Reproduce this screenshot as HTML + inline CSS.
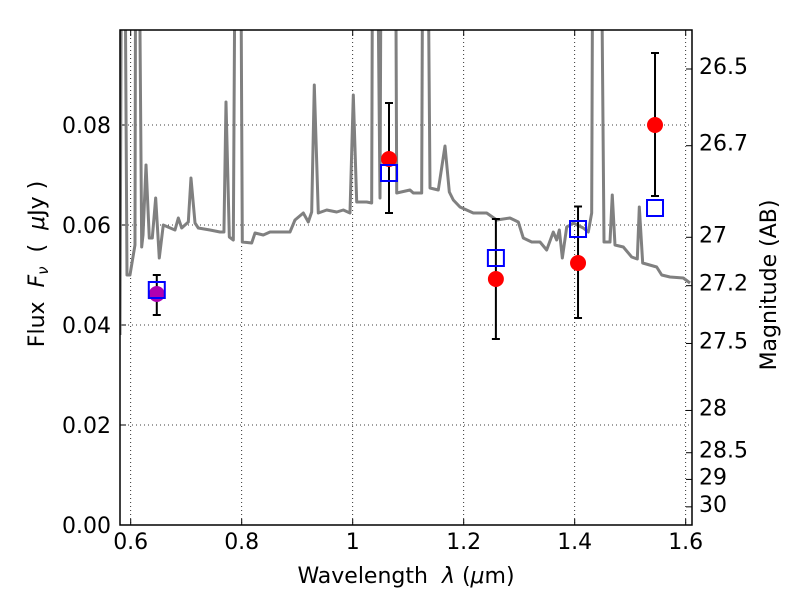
<!DOCTYPE html>
<html><head><meta charset="utf-8"><style>
body{margin:0;background:#fff}
svg text{font-family:"DejaVu Sans","Liberation Sans",sans-serif;fill:#000}
</style></head><body>
<svg id="chart" width="800" height="600" xmlns="http://www.w3.org/2000/svg"></svg>
<script>
const specLam=[0.5807,0.5843,0.588,0.5933,0.5987,0.6077,0.6095,0.6131,0.6198,0.6222,0.6276,0.6335,0.6389,0.645,0.6515,0.6587,0.6798,0.6858,0.6919,0.7038,0.7086,0.7159,0.7218,0.7429,0.7609,0.768,0.7717,0.7777,0.7849,0.7897,0.7969,0.8011,0.818,0.824,0.8389,0.851,0.887,0.896,0.911,0.92,0.9261,0.9308,0.938,0.9532,0.9712,0.9831,0.9951,1.0011,1.0072,1.0252,1.0342,1.0366,1.042,1.0492,1.0523,1.0762,1.0793,1.1032,1.1092,1.1243,1.1272,1.1333,1.1393,1.1542,1.1663,1.1741,1.1813,1.1933,1.2173,1.2414,1.2595,1.2834,1.2984,1.3074,1.3225,1.3375,1.3495,1.3614,1.3675,1.3723,1.3777,1.3856,1.3975,1.4155,1.4245,1.4306,1.4335,1.4456,1.4528,1.4636,1.4677,1.4726,1.4876,1.5027,1.5128,1.5164,1.5225,1.5477,1.5568,1.5717,1.5957,1.6078];
const specFlux=[0.038,0.15,0.15,0.05,0.05,0.056,0.15,0.15,0.0556,0.058,0.072,0.0574,0.0574,0.0654,0.0534,0.06,0.059,0.0614,0.0594,0.0606,0.0694,0.0604,0.0594,0.059,0.0586,0.0586,0.0846,0.0576,0.057,0.15,0.15,0.0566,0.0564,0.0584,0.058,0.0586,0.0586,0.061,0.0624,0.0606,0.0626,0.088,0.0624,0.063,0.0626,0.063,0.0624,0.086,0.0646,0.0646,0.0644,0.15,0.15,0.0654,0.15,0.15,0.0664,0.067,0.0664,0.0664,0.15,0.15,0.0674,0.067,0.0758,0.0666,0.065,0.0636,0.0624,0.0624,0.061,0.0614,0.0606,0.0574,0.0566,0.0566,0.055,0.0586,0.057,0.059,0.0534,0.0596,0.0604,0.0594,0.0586,0.0624,0.15,0.15,0.0566,0.0566,0.066,0.056,0.0556,0.0536,0.0532,0.0636,0.0524,0.0516,0.05,0.0496,0.0494,0.0484];
const obsLam=[0.647,1.0654,1.258,1.406,1.5447];
const obsFlux=[0.0462,0.0732,0.0492,0.0524,0.080];
const errHi=[0.050,0.0844,0.0612,0.0637,0.0944];
const errLo=[0.042,0.0624,0.0372,0.0414,0.0658];
const modelFlux=[0.047,0.0704,0.0534,0.0592,0.0634];
const xTicks=[0.6,0.8,1.0,1.2,1.4,1.6];
const xTickLabels=["0.6","0.8","1","1.2","1.4","1.6"];
const yTicks=[0,0.02,0.04,0.06,0.08];
const yTickLabels=["0.00","0.02","0.04","0.06","0.08"];
const magTicks=[26.5,26.7,27,27.2,27.5,28,28.5,29,30];
const magLabels=["26.5","26.7","27","27.2","27.5","28","28.5","29","30"];

const L=120,R=692,T=30,B=525;
const x=v=>130.7+(v-0.6)*555;
const y=v=>525-v*5000;
const NS="http://www.w3.org/2000/svg";
const svg=document.getElementById('chart');
function mk(t,a,p){const e=document.createElementNS(NS,t);for(const k in a)e.setAttribute(k,a[k]);(p||svg).appendChild(e);return e;}
const defs=mk('defs',{});const cp=mk('clipPath',{id:'c'},defs);mk('rect',{x:L,y:T,width:R-L,height:B-T},cp);
xTicks.forEach((t,i)=>{
 const g=mk('line',{x1:x(t),x2:x(t),y1:T,y2:B,stroke:'#000','stroke-width':0.8,'stroke-dasharray':'1,3'});
 
 
 mk('line',{x1:x(t),x2:x(t),y1:B,y2:B-6,stroke:'#000'});
 mk('line',{x1:x(t),x2:x(t),y1:T,y2:T+6,stroke:'#000'});
 const tx=mk('text',{x:x(t),y:549,'font-size':22,'text-anchor':'middle'});tx.textContent=xTickLabels[i];
 
 
});
yTicks.forEach((t,i)=>{
 const g=mk('line',{x1:L,x2:R,y1:y(t),y2:y(t),stroke:'#000','stroke-width':0.8,'stroke-dasharray':'1,3'});
 
 
 mk('line',{x1:L,x2:L+6,y1:y(t),y2:y(t),stroke:'#000'});
 const tx=mk('text',{x:111,y:y(t)+8,'font-size':22,'text-anchor':'end'});tx.textContent=yTickLabels[i];
 
 
});
magTicks.forEach((m,i)=>{
 const yy=y(Math.pow(10,(23.9-m)/2.5));
 mk('line',{x1:R,x2:R-6,y1:yy,y2:yy,stroke:'#000'});
 const tx=mk('text',{x:699,y:yy+5,'font-size':22});tx.textContent=magLabels[i];
 
 
});
const sp=mk('polyline',{points:specLam.map((l,i)=>x(l)+','+y(specFlux[i])).join(' '),fill:'none',stroke:'#808080','stroke-width':3,'stroke-linejoin':'round','clip-path':'url(#c)'});


obsLam.forEach((l,i)=>{
 const g=mk('g',{stroke:'#000','stroke-width':2});
 
 
 mk('line',{x1:x(l),x2:x(l),y1:y(errHi[i]),y2:y(errLo[i])},g);
 mk('line',{x1:x(l)-4,x2:x(l)+4,y1:y(errHi[i]),y2:y(errHi[i])},g);
 mk('line',{x1:x(l)-4,x2:x(l)+4,y1:y(errLo[i]),y2:y(errLo[i])},g);
});
obsLam.forEach((l,i)=>{
 const c=mk('circle',{cx:x(l),cy:y(obsFlux[i]),r:8,fill:i==0?'#b000b0':'#ff0000'});
 
 
});
obsLam.forEach((l,i)=>{
 const s=mk('rect',{x:x(l)-8,y:y(modelFlux[i])-8,width:16,height:16,fill:'none',stroke:'#0000ff','stroke-width':2});
 
 
});
const fr=mk('rect',{x:L,y:T,width:R-L,height:B-T,fill:'none',stroke:'#000','stroke-width':1.5});


</script>
<svg width="800" height="600" style="position:absolute;left:0;top:0">
<text x="406" y="583" font-size="22" text-anchor="middle" font-family="DejaVu Sans, sans-serif" xml:space="preserve">Wavelength  <tspan font-style="italic">λ</tspan> (<tspan font-style="italic">μ</tspan>m)</text>
<text transform="translate(44,264) rotate(-90)" font-size="22" text-anchor="middle" font-family="DejaVu Sans, sans-serif" xml:space="preserve">Flux  <tspan font-style="italic">F</tspan><tspan font-style="italic" font-size="15" dy="4">ν</tspan><tspan dy="-4">  (  </tspan><tspan font-style="italic">μ</tspan>Jy )</text>
<text transform="translate(776,285) rotate(-90)" font-size="22" text-anchor="middle" font-family="DejaVu Sans, sans-serif">Magnitude (AB)</text>
</svg>
</body></html>
